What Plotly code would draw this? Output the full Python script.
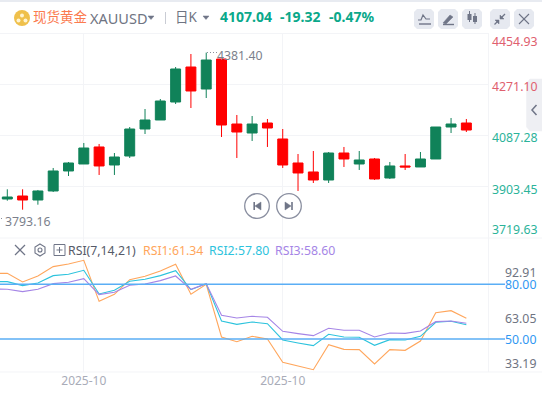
import plotly.graph_objects as go

W, H = 542, 393

# Candle index -1 lies just off the left edge and carries the labelled low.
index = list(range(-1, 31))
opens = [3870.0, 3858.4, 3869.2, 3854.8, 3887.3, 3959.4, 3984.6, 4045.9, 3981.0, 4013.4, 4110.7, 4143.2, 4208.0, 4334.2, 4254.9, 4363.0,
         4128.7, 4096.3, 4132.3, 4074.7, 3988.2, 3955.8, 3926.9, 4024.2, 3984.6, 4002.6, 3934.1, 3977.4, 3973.8, 4002.6, 4117.9, 4132.3]
highs = [3885.0, 3893.4, 3893.4, 3890.9, 3970.2, 3991.8, 4060.3, 4056.7, 4024.2, 4117.9, 4182.8, 4218.8, 4334.2, 4381.0, 4386.0, 4363.0,
         4161.2, 4157.6, 4146.8, 4110.7, 4020.6, 4031.4, 4027.8, 4045.9, 4031.4, 4006.2, 3991.8, 4020.6, 4027.8, 4117.9, 4150.4, 4146.8]
lows = [3793.16, 3852.3, 3819.9, 3837.9, 3883.7, 3941.3, 3984.6, 3945.0, 3945.0, 4006.2, 4092.7, 4143.2, 4200.8, 4186.4, 4222.4, 4081.9,
        4006.2, 4067.5, 4045.9, 3970.2, 3887.3, 3916.1, 3916.1, 3973.8, 3963.0, 3926.9, 3930.5, 3963.0, 3973.8, 4002.6, 4096.3, 4099.9]
closes = [3858.0, 3865.6, 3854.8, 3887.3, 3959.4, 3988.2, 4042.2, 3977.4, 4009.8, 4110.7, 4143.2, 4211.6, 4327.0, 4247.7, 4359.4, 4125.1,
          4099.9, 4128.7, 4114.3, 3981.0, 3952.2, 3926.9, 4024.2, 4002.6, 3999.0, 3930.5, 3977.4, 3973.8, 4002.6, 4117.9, 4128.7, 4107.04]

rsi1 = [86.0, 86.04, 81.28, 84.57, 89.69, 91.16, 93.17, 70.67, 74.51, 82.56, 84.39, 87.32, 90.97, 74.51, 80.0, 51.10,
        48.54, 51.47, 50.0, 37.2, 35.19, 33.18, 46.90, 44.33, 44.15, 36.29, 44.15, 43.79, 48.91, 64.45, 65.55, 61.34]
rsi2 = [81.46, 81.46, 79.27, 80.73, 84.76, 85.49, 87.68, 74.70, 76.71, 81.65, 82.74, 84.76, 87.5, 77.07, 80.37, 59.88,
        58.05, 59.33, 58.42, 49.46, 47.81, 46.35, 52.57, 51.10, 50.92, 46.53, 49.64, 49.46, 51.47, 59.15, 59.70, 57.80]
rsi3 = [77.44, 77.26, 75.98, 77.26, 80.37, 81.10, 83.11, 74.33, 75.61, 79.45, 80.18, 82.01, 84.57, 77.26, 80.37, 62.99,
        61.53, 62.44, 61.89, 54.21, 52.93, 51.83, 55.86, 54.76, 54.76, 51.10, 53.30, 53.11, 54.39, 59.51, 59.88, 58.60]

price_ticks = [4454.93, 4271.10, 4087.28, 3903.45, 3719.63]
rsi_levels = [80.00, 50.00]
rsi_labels = [92.91, 63.05, 33.19]
date_ticks = [5, 18]
date_labels = ["2025-10", "2025-10"]

FONT = "Noto Sans, Noto Sans CJK SC, sans-serif"
GRID = "#f3f4f7"
GREEN, RED = "#108259", "#ff0000"
ORANGE, CYAN, PURPLE, BLUE = "#ffa65c", "#2cc3dd", "#a585e6", "#5aaef5"
TEAL = "#0aa88a"
ICON = "#6f7587"


def px(x):
    return x / W


def py(y):
    return 1 - y / H


def path_px(points, close=False):
    s = "M " + " L ".join(f"{px(x):.5f},{py(y):.5f}" for x, y in points)
    return s + (" Z" if close else "")


fig = go.Figure()
fig.add_trace(go.Candlestick(
    x=index, open=opens, high=highs, low=lows, close=closes,
    increasing=dict(line=dict(color=GREEN, width=1), fillcolor=GREEN),
    decreasing=dict(line=dict(color=RED, width=1), fillcolor=RED),
    whiskerwidth=0, xaxis="x", yaxis="y", showlegend=False, hoverinfo="skip"))
for values, color in ((rsi1, ORANGE), (rsi2, CYAN), (rsi3, PURPLE)):
    fig.add_trace(go.Scatter(x=index, y=values, mode="lines", xaxis="x2", yaxis="y2",
                             line=dict(color=color, width=1.1), showlegend=False, hoverinfo="skip"))

x_range = [-0.477, 31.48]
x_domain = [0, 489 / W]
shapes = []
annotations = []


def text(x, y, s, color, size=12, anchor="left", weight=None):
    t = f"<b>{s}</b>" if weight else s
    annotations.append(dict(xref="paper", yref="paper", x=px(x), y=py(y), text=t, showarrow=False,
                            xanchor=anchor, yanchor="middle",
                            xshift=-2 if anchor == "left" else 4,
                            font=dict(family=FONT, size=size, color=color)))


def rect(x0, y0, x1, y1, fill, line=None, layer="above"):
    shapes.append(dict(type="rect", xref="paper", yref="paper", x0=px(x0), x1=px(x1), y0=py(y0), y1=py(y1),
                       fillcolor=fill, line=dict(color=line or fill, width=1 if line else 0), layer=layer))


def stroke(points, color=ICON, width=1.5, close=False, fill=None, dash=None):
    shapes.append(dict(type="path", xref="paper", yref="paper", path=path_px(points, close),
                       line=dict(color=color, width=width, dash=dash or "solid"),
                       fillcolor=fill or "rgba(0,0,0,0)", layer="above"))


def circle(cx, cy, r, fill="rgba(0,0,0,0)", line=None, width=1.2):
    shapes.append(dict(type="circle", xref="paper", yref="paper", x0=px(cx - r), x1=px(cx + r),
                       y0=py(cy + r), y1=py(cy - r), fillcolor=fill,
                       line=dict(color=line or fill, width=width if line else 0), layer="above"))


# chart frame lines
rect(0, 0, 542, 2, "#e8ebf1")
stroke([(0, 33.5), (489, 33.5)], GRID, 1)
stroke([(0, 238), (542, 238)], GRID, 1)
stroke([(0, 372), (542, 372)], GRID, 1)
stroke([(488.5, 33.5), (488.5, 372)], GRID, 1)

# RSI reference lines come from the RSI axis
for lv in rsi_levels:
    shapes.append(dict(type="line", xref="paper", yref="y2", x0=0, x1=px(505), y0=lv, y1=lv,
                       line=dict(color=BLUE, width=1.4), layer="above"))

# header
circle(22, 18, 8, "#efc04b")
circle(22, 15.5, 2, "#fff3d0")
circle(18.5, 20.5, 2, "#fff3d0")
circle(25.5, 20.5, 2, "#fff3d0")
text(33, 17, "现货黄金", "#fb7b4f", 13.5)
text(90, 18, "XAUUSD", "#6f7482", 14.5)
stroke([(148, 16), (154, 16), (151, 19.5)], ICON, 0.5, True, ICON)
stroke([(165.5, 12), (165.5, 24)], "#c9ccd4", 1)
text(175, 16.5, "日K", "#6f7482", 13.5)
stroke([(203, 16), (209, 16), (206, 19.5)], ICON, 0.5, True, ICON)
text(220, 16, "4107.04", TEAL, 14, weight=True)
text(280, 16, "-19.32", TEAL, 14, weight=True)
text(329, 16, "-0.47%", TEAL, 14, weight=True)

# toolbar buttons
for bx in (414, 438, 462, 490, 514):
    shapes.append(dict(type="path", xref="paper", yref="paper", layer="above",
                       path=path_px([(bx + 3, 9), (bx + 17, 9), (bx + 20, 12), (bx + 20, 26), (bx + 17, 29),
                                     (bx + 3, 29), (bx, 26), (bx, 12)], True),
                       fillcolor="#e6e9f0", line=dict(color="#e6e9f0", width=0)))
stroke([(418, 20), (421, 20), (423, 15), (426, 19), (430, 19)], ICON, 1.2)
stroke([(419, 24), (431, 24)], ICON, 1.4)
stroke([(443, 23), (450, 15), (453, 17), (446, 24)], ICON, 0.5, True, ICON)
stroke([(443, 24.5), (454, 24.5)], ICON, 1.4)
stroke([(469.5, 11), (469.5, 22)], ICON, 1)
rect(467.5, 14, 471.5, 20, ICON)
stroke([(475, 13), (475, 24)], ICON, 1)
rect(473, 16, 477, 22, ICON)
stroke([(505, 14), (501, 18)], ICON, 1.2)
stroke([(500, 19), (500, 15), (504, 19)], ICON, 0.5, True, ICON)
stroke([(498, 21), (494.5, 24.5)], ICON, 1.2)
stroke([(499, 20), (499, 24), (495, 20)], ICON, 0.5, True, ICON)
stroke([(519, 14), (529, 24)], ICON, 1.1)
stroke([(529, 14), (519, 24)], ICON, 1.1)

# collapsed side tab
stroke([(542, 79), (530, 79), (526.5, 83), (526.5, 127), (530, 131), (542, 131)], "#eeeff3", 0.5, True, "#eeeff3")
stroke([(536.5, 105), (532, 110), (536.5, 115)], ICON, 1.5)

# navigation buttons
for cx in (257, 289):
    circle(cx, 206, 12.3, "rgba(255,255,255,0.9)", "#8a8fa0", 1.3)
stroke([(254.2, 202), (254.2, 210)], ICON, 1.6)
stroke([(261, 202), (255, 206), (261, 210)], ICON, 0.5, True, ICON)
stroke([(292, 202), (292, 210)], ICON, 1.6)
stroke([(285, 202), (291, 206), (285, 210)], ICON, 0.5, True, ICON)

# RSI header
stroke([(15, 245), (25, 255)], ICON, 1.2)
stroke([(25, 245), (15, 255)], ICON, 1.2)
stroke([(40, 244), (45, 247), (45, 253), (40, 256), (35, 253), (35, 247)], ICON, 1.1, True)
circle(40, 250, 2, "rgba(0,0,0,0)", ICON, 1.1)
rect(54, 244.5, 65, 255.5, "rgba(0,0,0,0)", ICON)
stroke([(56.5, 250), (62.5, 250)], ICON, 1)
stroke([(59.5, 247), (59.5, 253)], ICON, 1)
text(68, 250.5, "RSI(7,14,21)", "#555a68", 12.3)
text(143, 250.5, "RSI1:61.34", ORANGE, 12.3)
text(209, 250.5, "RSI2:57.80", CYAN, 12.3)
text(275, 250.5, "RSI3:58.60", PURPLE, 12.3)

# price labels and extremes
price_label_y = [41.5, 86, 137.5, 189, 229.5]
price_colors = ["#e0606e", "#e0606e", "#2bb39a", "#2bb39a", "#2bb39a"]
for p, ly, c in zip(price_ticks, price_label_y, price_colors):
    text(535.5, ly, f"{p:.2f}", c, 12.3, "right")
text(217, 55.5, "4381.40", "#7b7f8c", 12.3)
stroke([(207, 52.5), (217, 52.5)], "#8a8e9a", 1, dash="1px,2px")
text(5, 221, "3793.16", "#7b7f8c", 12.3)
stroke([(1, 218.5), (4, 218.5)], "#8a8e9a", 1, dash="1px,2px")

# RSI labels
for v, ly in zip(rsi_labels, [272, 318, 363.5]):
    text(533.5, ly, f"{v:.2f}", "#6f7482", 12.3, "right")
for v, ly in zip(rsi_levels, [284.5, 339.5]):
    text(533.5, ly, f"{v:.2f}", "#2f97f2", 12.3, "right")

fig.update_layout(
    width=W, height=H, margin=dict(l=0, r=0, t=0, b=0), autosize=False,
    paper_bgcolor="white", plot_bgcolor="white", showlegend=False,
    boxgap=0.35, boxgroupgap=0,
    dragmode=False, shapes=shapes, annotations=annotations,
    xaxis=dict(domain=x_domain, range=x_range, anchor="y", rangeslider=dict(visible=False),
               tickvals=date_ticks, ticktext=["", ""], showline=False, zeroline=False,
               showgrid=True, gridcolor=GRID, gridwidth=1, ticks=""),
    yaxis=dict(domain=[py(237.5), py(33.5)], range=[price_ticks[-1], price_ticks[0]], tickvals=price_ticks,
               showticklabels=False, showgrid=True, gridcolor=GRID, gridwidth=1, zeroline=False, showline=False,
               ticks=""),
    xaxis2=dict(domain=x_domain, range=x_range, anchor="y2", tickvals=date_ticks, ticktext=date_labels,
                tickfont=dict(family=FONT, size=12, color="#a9acb8"), ticks="", ticklen=0,
                showgrid=True, gridcolor=GRID, gridwidth=1, showline=False, zeroline=False),
    yaxis2=dict(domain=[py(372), py(238)], range=[31.9, 105.4], showticklabels=False, showgrid=False,
                zeroline=False, showline=False, ticks=""),
)

fig.write_html("out.html", config=dict(displayModeBar=False, staticPlot=True),
               post_script="document.body.style.margin='0';document.body.style.overflow='hidden';")
